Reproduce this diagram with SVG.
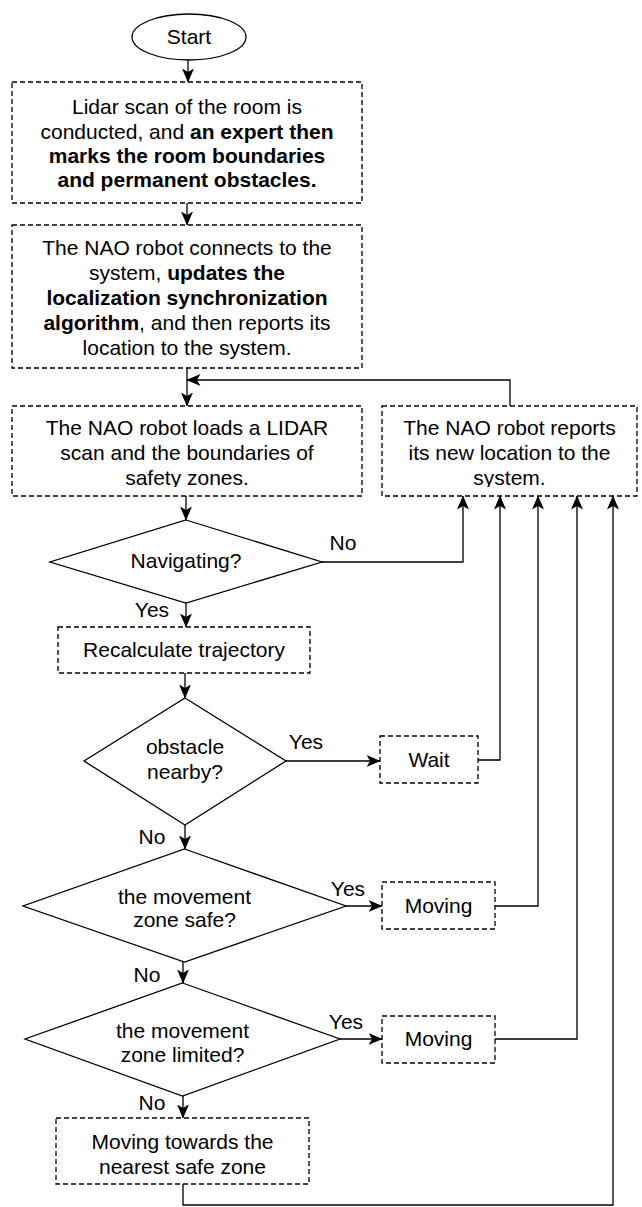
<svg xmlns="http://www.w3.org/2000/svg" width="642" height="1207" viewBox="0 0 642 1207">
<defs>
<style>
.box{fill:#fff;stroke:#000;stroke-width:1.3;stroke-dasharray:5 3}
.sh{fill:#fff;stroke:#000;stroke-width:1.3}
.ln{fill:none;stroke:#000;stroke-width:1.3}
text{font-family:"Liberation Sans",Arial,sans-serif;font-size:21px;fill:#000;text-anchor:middle}
.b{font-weight:bold}
</style>
<marker id="ah" viewBox="0 0 14 12" refX="13.5" refY="6" markerWidth="14" markerHeight="12" markerUnits="userSpaceOnUse" orient="auto">
<path d="M0,0 L14,6 L0,12 L3.5,6 Z" fill="#000"/>
</marker>
<clipPath id="c3"><rect x="12" y="406" width="350" height="81"/></clipPath>
<clipPath id="c4"><rect x="382" y="406" width="255" height="81"/></clipPath>
</defs>

<g id="connectors">
<path class="ln" d="M188,60 V82" marker-end="url(#ah)"/>
<path class="ln" d="M187,203 V225" marker-end="url(#ah)"/>
<path class="ln" d="M187,368 V406" marker-end="url(#ah)"/>
<path class="ln" d="M510,406 V380 H187" marker-end="url(#ah)"/>
<path class="ln" d="M186,496 V520" marker-end="url(#ah)"/>
<path class="ln" d="M322,562 H463 V496" marker-end="url(#ah)"/>
<path class="ln" d="M186,603 V627" marker-end="url(#ah)"/>
<path class="ln" d="M185,673 V698" marker-end="url(#ah)"/>
<path class="ln" d="M286,761 H380" marker-end="url(#ah)"/>
<path class="ln" d="M478,760 H500 V496" marker-end="url(#ah)"/>
<path class="ln" d="M185,825 V849" marker-end="url(#ah)"/>
<path class="ln" d="M346,906 H382" marker-end="url(#ah)"/>
<path class="ln" d="M495,906 H538 V496" marker-end="url(#ah)"/>
<path class="ln" d="M183,962 V983" marker-end="url(#ah)"/>
<path class="ln" d="M340,1039 H382" marker-end="url(#ah)"/>
<path class="ln" d="M495,1039 H577 V496" marker-end="url(#ah)"/>
<path class="ln" d="M183,1096 V1118" marker-end="url(#ah)"/>
<path class="ln" d="M183,1184 V1205 H613 V496" marker-end="url(#ah)"/>
<text x="343" y="550">No</text>
<text x="152" y="617">Yes</text>
<text x="306" y="749">Yes</text>
<text x="152" y="844">No</text>
<text x="348" y="896">Yes</text>
<text x="346" y="1029">Yes</text>
<text x="147" y="982">No</text>
<text x="152" y="1110">No</text>
</g>

<g id="start">
<ellipse class="sh" cx="189" cy="37" rx="57" ry="23"/>
<text x="189" y="44">Start</text>
</g>

<g id="lidar-scan">
<rect class="box" x="12" y="82" width="350" height="121"/>
<text x="187" y="114">Lidar scan of the room is</text>
<text x="187" y="139">conducted, and <tspan class="b">an expert then</tspan></text>
<text x="187" y="163" class="b">marks the room boundaries</text>
<text x="187" y="187" class="b">and permanent obstacles.</text>
</g>

<g id="connect">
<rect class="box" x="12" y="225" width="350" height="143"/>
<text x="187" y="255">The NAO robot connects to the</text>
<text x="187" y="280">system, <tspan class="b">updates the</tspan></text>
<text x="187" y="305" class="b">localization synchronization</text>
<text x="187" y="330"><tspan class="b">algorithm</tspan>, and then reports its</text>
<text x="187" y="355">location to the system.</text>
</g>

<g id="load-lidar">
<rect class="box" x="12" y="406" width="350" height="90"/>
<g clip-path="url(#c3)">
<text x="187" y="435">The NAO robot loads a LIDAR</text>
<text x="187" y="460">scan and the boundaries of</text>
<text x="187" y="485">safety zones.</text>
</g>
</g>

<g id="report">
<rect class="box" x="382" y="406" width="255" height="90"/>
<g clip-path="url(#c4)">
<text x="509.5" y="435">The NAO robot reports</text>
<text x="509.5" y="460">its new location to the</text>
<text x="509.5" y="485">system.</text>
</g>
</g>

<g id="navigating">
<polygon class="sh" points="186,520 322,562 186,603 50,562"/>
<text x="186" y="568">Navigating?</text>
</g>

<g id="recalculate">
<rect class="box" x="58" y="627" width="252" height="46"/>
<text x="184" y="657">Recalculate trajectory</text>
</g>

<g id="obstacle">
<polygon class="sh" points="185,698 286,761 185,825 84,761"/>
<text x="185" y="754">obstacle</text>
<text x="185" y="779">nearby?</text>
</g>

<g id="wait">
<rect class="box" x="380" y="736" width="98" height="47"/>
<text x="429" y="767">Wait</text>
</g>

<g id="zone-safe">
<polygon class="sh" points="184.5,849 346,906 184.5,962 23,906"/>
<text x="184.5" y="904">the movement</text>
<text x="184.5" y="927">zone safe?</text>
</g>

<g id="moving1">
<rect class="box" x="382" y="882" width="113" height="47"/>
<text x="438.5" y="913">Moving</text>
</g>

<g id="zone-limited">
<polygon class="sh" points="182.5,983 340,1039 182.5,1096 25,1039"/>
<text x="182.5" y="1038">the movement</text>
<text x="182.5" y="1062">zone limited?</text>
</g>

<g id="moving2">
<rect class="box" x="382" y="1016" width="113" height="47"/>
<text x="438.5" y="1046">Moving</text>
</g>

<g id="nearest-safe">
<rect class="box" x="56" y="1118" width="253" height="66"/>
<text x="182.5" y="1149">Moving towards the</text>
<text x="182.5" y="1174">nearest safe zone</text>
</g>
</svg>
